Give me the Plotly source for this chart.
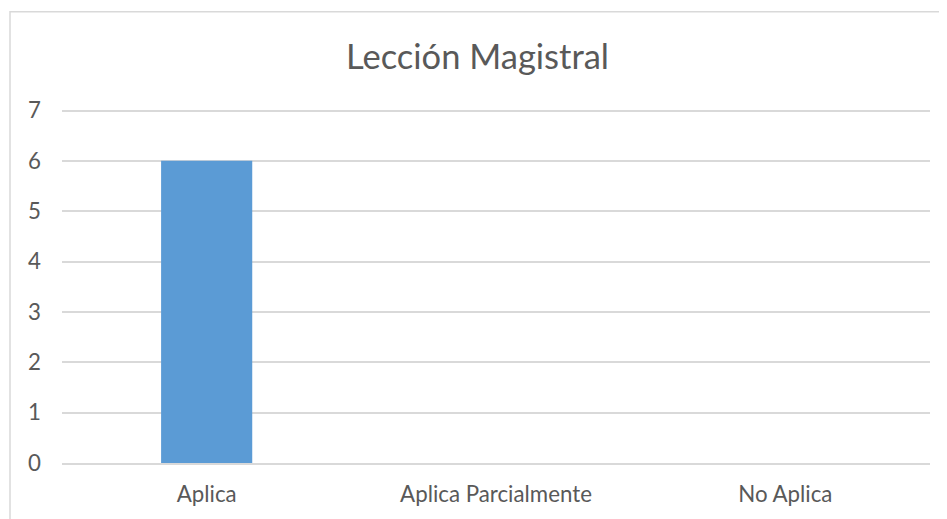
import plotly.graph_objects as go

categories = ["Aplica", "Aplica Parcialmente", "No Aplica"]
values = [6, 0, 0]
y_ticks = [0, 1, 2, 3, 4, 5, 6, 7]

TEXT = "#595959"
GRID = "#d9d9d9"

# the page body adds an 8px offset, so the figure is sized to compensate
W, H = 939, 511
L, R, T, B = 54, 17, 100, 53

fig = go.Figure(go.Bar(
    x=categories,
    y=values,
    marker_color="#5b9bd5",
    marker_line_width=0,
    hoverinfo="x+y",
))

fig.update_layout(
    width=W,
    height=H,
    margin=dict(l=L, r=R, t=T, b=B),
    paper_bgcolor="white",
    plot_bgcolor="white",
    font=dict(family="Lato, sans-serif", size=22.3, color=TEXT),
    title=dict(
        text="Lección Magistral",
        x=0.5,
        xanchor="center",
        y=1 - 49 / H,
        yanchor="middle",
        font=dict(size=34.5, color=TEXT),
    ),
    bargap=0.685,
    showlegend=False,
    xaxis=dict(
        showgrid=False,
        showline=True,
        linecolor=GRID,
        linewidth=1.5,
        ticks="",
        ticklabelstandoff=10,
    ),
    yaxis=dict(
        range=[0, 7.05],
        tickvals=y_ticks,
        showgrid=True,
        gridcolor=GRID,
        gridwidth=1.5,
        zeroline=False,
        showline=False,
        ticks="",
        ticklabelstandoff=20,
    ),
    shapes=[
        # chart-area border (cropped on right and bottom)
        dict(
            type="rect", xref="paper", yref="paper",
            x0=-52 / (W - L - R), x1=1.2,
            y0=-0.3, y1=1 + 97 / (H - T - B),
            line=dict(color=GRID, width=1.5),
            fillcolor="rgba(0,0,0,0)",
            layer="below",
        ),
    ],
)

fig.write_html("out.html")
